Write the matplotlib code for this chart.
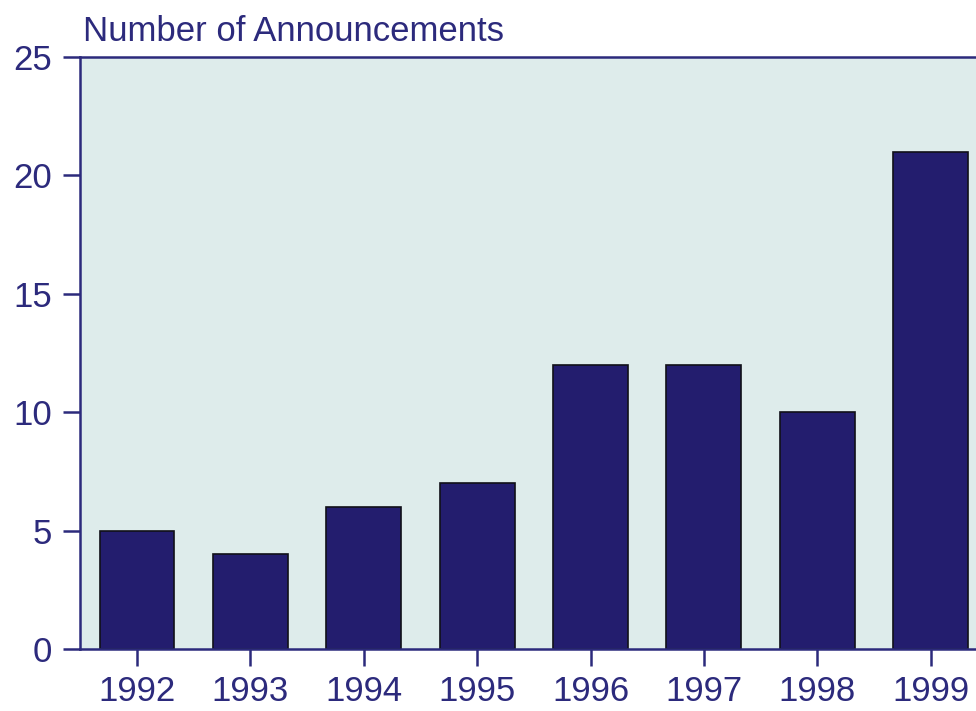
import matplotlib
matplotlib.use("Agg")
import matplotlib.pyplot as plt

years = ["1992", "1993", "1994", "1995", "1996", "1997", "1998", "1999"]
announcements = [5, 4, 6, 7, 12, 12, 10, 21]
yticks = [0, 5, 10, 15, 20, 25]

navy = "#2c2a7c"
bar_color = "#231d6e"
bg = "#deeceb"

plt.rcParams['font.family'] = ['Liberation Sans', 'DejaVu Sans']

fig = plt.figure(figsize=(9.76, 7.11), dpi=100)
W, H = 976, 711
left, right, top, bottom = 80, 976, 57, 649
ax = fig.add_axes([left / W, 1 - bottom / H, (right - left) / W, (bottom - top) / H])
ax.set_facecolor(bg)

x = list(range(len(years)))
ax.bar(x, announcements, width=0.66, color=bar_color, edgecolor="#101018", linewidth=1.2, zorder=2)
ax.set_xlim(-0.503, 7.4)
ax.set_ylim(0, 25)
ax.set_xticks(x)
ax.set_xticklabels(years)
ax.set_yticks(yticks)
ax.set_yticklabels([str(v) for v in yticks])

for s in ["left", "bottom", "top"]:
    ax.spines[s].set_color(navy)
    ax.spines[s].set_linewidth(1.8)
ax.spines["right"].set_visible(False)

ax.tick_params(axis="both", colors=navy, labelsize=25, width=1.8, length=12, direction="out")
ax.tick_params(axis="x", pad=7)
ax.tick_params(axis="y", pad=8)

fig.text(83 / W, 1 - 41 / H, "Number of Announcements", color=navy, fontsize=25, ha="left", va="baseline")

fig.savefig("out.png", dpi=100)
